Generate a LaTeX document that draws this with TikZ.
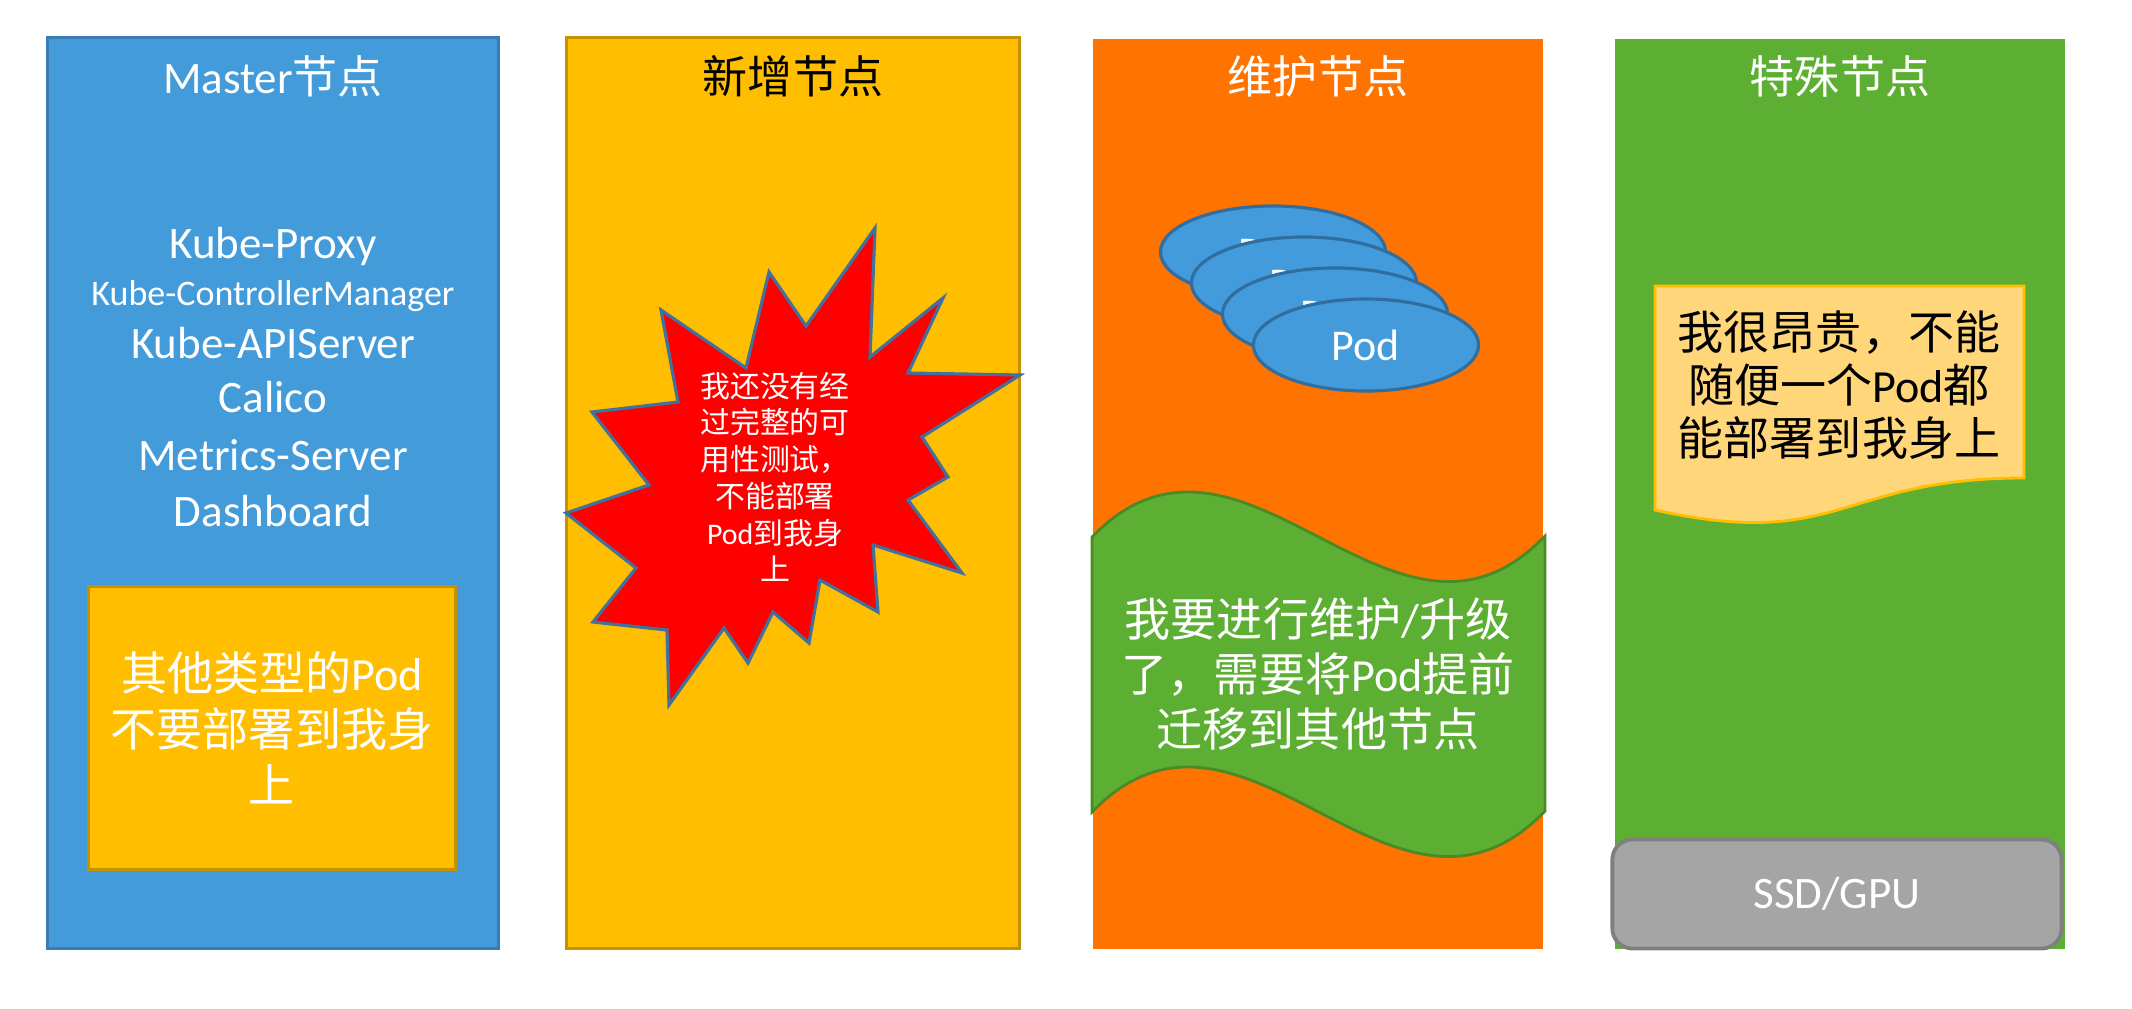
\documentclass[tikz,border=0pt]{standalone}
\usepackage{fontspec}
\setmainfont{Carlito}
\newfontfamily\cjk{Noto Sans CJK SC}
\newcommand{\en}[1]{{\rmfamily #1}}
\usepackage{tikz}
\usetikzlibrary{shapes,positioning,shapes.geometric}
\usepackage{xcolor}
\definecolor{masterblue}{HTML}{449BDA}
\definecolor{masterline}{HTML}{3A7DB6}
\definecolor{newgold}{HTML}{FFBF00}
\definecolor{newline}{HTML}{C59300}
\definecolor{maintorange}{HTML}{FF7300}
\definecolor{specialgreen}{HTML}{5DAF34}
\definecolor{waveline}{HTML}{4A8A26}
\definecolor{starline}{HTML}{41719C}
\definecolor{podblue}{HTML}{439BDB}
\definecolor{podline}{HTML}{2F6E9E}
\definecolor{notefill}{HTML}{FFD679}
\definecolor{hwgray}{HTML}{A5A5A5}
\definecolor{hwline}{HTML}{7F7F7F}

\begin{document}
\begin{tikzpicture}[
    x=0.01cm, y=-0.01cm,
    column/.style={rectangle, inner sep=0pt, minimum width=4.5cm, minimum height=9.08cm, line width=0.8pt},
    title/.style={anchor=base, inner sep=0pt, font=\fontsize{12.8pt}{15pt}\selectfont},
    comp/.style={anchor=base, inner sep=0pt, text=white, font=\fontsize{12.8pt}{15pt}\selectfont},
    innerbox/.style={rectangle, minimum width=3.67cm, minimum height=2.83cm, fill=newgold, draw=newline, line width=1pt, text=white, align=center, font=\cjk\fontsize{13.1pt}{16pt}\selectfont},
    startext/.style={text=white, align=center, inner sep=0pt, font=\cjk\fontsize{8.5pt}{10.45pt}\selectfont},
    star/.style={fill=red, draw=starline, line width=0.9pt, line join=miter},
    pod/.style={ellipse, minimum width=2.25cm, minimum height=0.92cm, fill=podblue, draw=podline, line width=0.9pt, text=white, font=\fontsize{12.5pt}{15pt}\selectfont},
    wave/.style={fill=specialgreen, draw=waveline, line width=0.8pt},
    wavetext/.style={text=white, align=center, inner sep=0pt, font=\cjk\fontsize{13.1pt}{15.65pt}\selectfont},
    note/.style={fill=notefill, draw=newgold, line width=0.8pt},
    notetext/.style={text=black, align=center, inner sep=0pt, font=\cjk\fontsize{13.1pt}{15.1pt}\selectfont},
    hw/.style={rectangle, rounded corners=0.2cm, minimum width=4.49cm, minimum height=1.09cm, fill=hwgray, draw=hwline, line width=1.1pt, text=white, font=\fontsize{12.8pt}{15pt}\selectfont}
]

\useasboundingbox (0,0) rectangle (2132,1008);

% 四列节点
\node (master) [column, fill=masterblue, draw=masterline, minimum width=4.51cm, minimum height=9.1cm] at (273,493) {};
\node (newnode) [column, fill=newgold, draw=newline, minimum width=4.53cm, minimum height=9.11cm] at (793,493) {};
\node (maint) [column, fill=maintorange, draw=maintorange, minimum width=4.47cm, minimum height=9.06cm] at (1318,494) {};
\node (special) [column, fill=specialgreen, draw=specialgreen, minimum width=4.47cm, minimum height=9.06cm] at (1840,494) {};

% 标题
\node (mastertitle) [title, text=white] at (273,93) {Master{\cjk 节点}};
\node (newtitle) [title, text=black] at (793,93) {\cjk 新增节点};
\node (mainttitle) [title, text=white] at (1318,93) {\cjk 维护节点};
\node (specialtitle) [title, text=white] at (1840,93) {\cjk 特殊节点};

% Master节点上的组件
\node (proxy) [comp] at (273,258) {Kube-Proxy};
\node (ctrl) [comp, font=\fontsize{10.24pt}{12pt}\selectfont] at (273,305) {Kube-ControllerManager};
\node (apiserver) [comp] at (273,358) {Kube-APIServer};
\node (calico) [comp] at (273,412) {Calico};
\node (metrics) [comp] at (273,470) {Metrics-Server};
\node (dashboard) [comp] at (273,526) {Dashboard};
\node (other) [innerbox] at (272,728) {其他类型的\en{Pod}\\不要部署到我身\\上};

% 新增节点：爆炸形
\draw [star] (875,228) -- (870,357) -- (943,298) -- (908,373) -- (1020,375) -- (922,437) -- (948,477) -- (908,500) -- (962,573) -- (873,545) -- (878,612) -- (820,580) -- (809,643) -- (773,612) -- (748,663) -- (724,628) -- (669,705) -- (667,630) -- (593,622) -- (636,568) -- (566,513) -- (649,485) -- (592,412) -- (678,402) -- (661,310) -- (746,368) -- (769,272) -- (806,326) -- cycle;
\node (untested) [startext] at (775,477) {我还没有经\\过完整的可\\用性测试，\\不能部署\\\en{Pod}到我身\\上};

% 维护节点：Pod堆叠
\node (pod1) [pod] at (1273,252) {Pod};
\node (pod2) [pod] at ([shift={(31,31)}]pod1) {Pod};
\node (pod3) [pod] at ([shift={(31,31)}]pod2) {Pod};
\node (pod4) [pod] at ([shift={(31,31)}]pod3) {Pod};

% 维护节点：波形
\draw [wave] (1092,537) .. controls (1243,381) and (1394,693) .. (1545,536) -- (1545,811) .. controls (1394,968) and (1243,656) .. (1092,812) -- cycle;
\node (migrate) [wavetext] at (1318,674) {我要进行维护\en{/}升级\\了，需要将\en{Pod}提前\\迁移到其他节点};

% 特殊节点
\draw [note] (1655,286) -- (2024,286) -- (2024,478) .. controls (1840,478) and (1840,551) .. (1655,510) -- cycle;
\node (expensive) [notetext] at (1839,385) {我很昂贵，不能\\随便一个\en{Pod}都\\能部署到我身上};
\node (ssd) [hw] at (1837,894) {SSD/GPU};

\end{tikzpicture}
\end{document}
